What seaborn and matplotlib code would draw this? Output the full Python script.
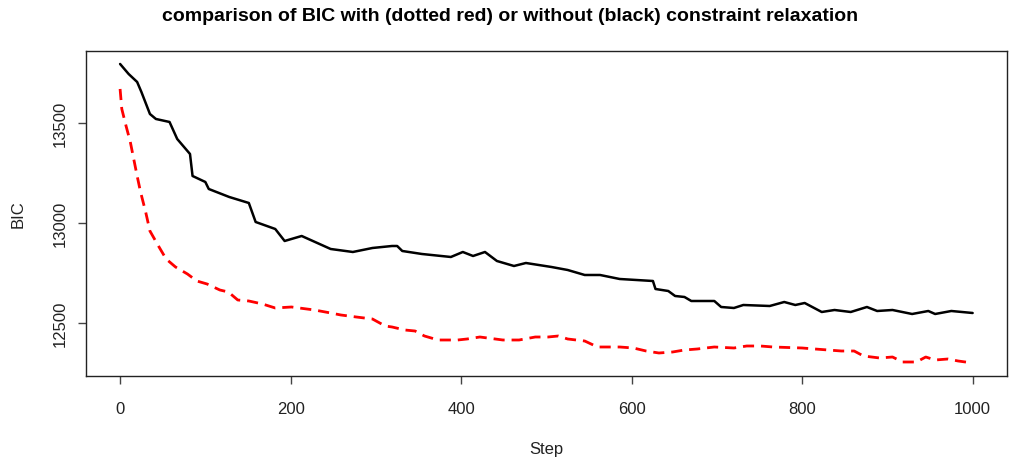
import numpy as np
import pandas as pd
import matplotlib
matplotlib.use("Agg")
import matplotlib.pyplot as plt
import seaborn as sns

# BIC trace without constraint relaxation (black)
black_step = [0, 10, 20, 25, 35, 42, 58, 67, 82, 85, 100, 104, 128, 151, 159, 182, 193,
              213, 247, 273, 296, 319, 325, 331, 354, 388, 402, 414, 428, 442, 462, 476,
              506, 525, 545, 563, 586, 625, 628, 643, 651, 662, 670, 697, 705, 720, 731,
              762, 779, 792, 803, 823, 838, 857, 876, 888, 906, 929, 948, 956, 975, 1000]
black_bic = [13795, 13745, 13705, 13655, 13545, 13520, 13505, 13420, 13345, 13235, 13205,
             13170, 13130, 13100, 13005, 12970, 12910, 12935, 12870, 12855, 12875, 12885,
             12885, 12860, 12845, 12830, 12855, 12835, 12855, 12810, 12785, 12800, 12780,
             12765, 12740, 12740, 12720, 12710, 12670, 12660, 12635, 12630, 12610, 12610,
             12580, 12575, 12590, 12585, 12605, 12590, 12600, 12555, 12565, 12555, 12580,
             12560, 12565, 12545, 12560, 12545, 12560, 12550]

# BIC trace with constraint relaxation (dashed red)
red_step = [0, 2, 7, 12, 16, 20, 24, 30, 35, 45, 54, 65, 79, 90, 102, 117, 127, 138, 151,
            167, 182, 201, 228, 247, 259, 277, 296, 311, 319, 334, 346, 357, 373, 396, 407,
            422, 449, 468, 487, 502, 514, 525, 545, 560, 586, 602, 617, 632, 648, 662, 677,
            697, 720, 735, 751, 766, 800, 815, 846, 861, 872, 891, 906, 918, 934, 945, 956,
            971, 983, 1000]
red_bic = [13670, 13570, 13485, 13405, 13320, 13235, 13155, 13055, 12960, 12885, 12820,
           12780, 12745, 12710, 12695, 12665, 12655, 12615, 12610, 12595, 12575, 12580,
           12565, 12550, 12540, 12530, 12520, 12485, 12480, 12465, 12460, 12435, 12415,
           12415, 12420, 12430, 12415, 12415, 12430, 12430, 12435, 12420, 12410, 12380,
           12380, 12375, 12360, 12350, 12355, 12365, 12370, 12380, 12375, 12385, 12385,
           12380, 12375, 12370, 12360, 12360, 12335, 12325, 12330, 12305, 12305, 12330,
           12315, 12320, 12310, 12300]

x_ticks = [0, 200, 400, 600, 800, 1000]
y_ticks = [12500, 13000, 13500]

black_df = pd.DataFrame({"Step": black_step, "BIC": black_bic})
red_df = pd.DataFrame({"Step": red_step, "BIC": red_bic})

sns.set_style("white")
plt.rcParams["font.family"] = ["Liberation Sans", "DejaVu Sans"]

fig = plt.figure(figsize=(10.2, 4.64), dpi=100)
ax = fig.add_axes([0.0843, 0.1875, 0.9027, 0.7005])

sns.lineplot(data=black_df, x="Step", y="BIC", ax=ax, color="black", linewidth=1.8)
sns.lineplot(data=red_df, x="Step", y="BIC", ax=ax, color="red", linewidth=2,
             linestyle=(0, (4, 2.5)))

ax.set_xlim(-40, 1040)
ax.set_ylim(12235, 13860)
ax.set_xticks(x_ticks)
ax.set_yticks(y_ticks)
ax.set_xticklabels([str(v) for v in x_ticks], fontsize=12, color="#222222")
ax.set_yticklabels([str(v) for v in y_ticks], fontsize=12, color="#222222",
                   rotation=90, va="center")
ax.tick_params(axis="both", direction="out", length=6, width=1, color="#444444",
               bottom=True, left=True)
ax.tick_params(axis="x", pad=12)
ax.tick_params(axis="y", pad=7)
for s in ax.spines.values():
    s.set_color("#222222")
    s.set_linewidth(1)

ax.set_xlabel("Step", fontsize=12, color="#222222", labelpad=18)
ax.set_ylabel("BIC", fontsize=12, color="#222222", labelpad=20)
fig.text(0.5, 0.965, "comparison of BIC with (dotted red) or without (black) constraint relaxation",
         ha="center", va="center", fontsize=14, fontweight="bold", color="black")

fig.savefig("out.png", dpi=100)
